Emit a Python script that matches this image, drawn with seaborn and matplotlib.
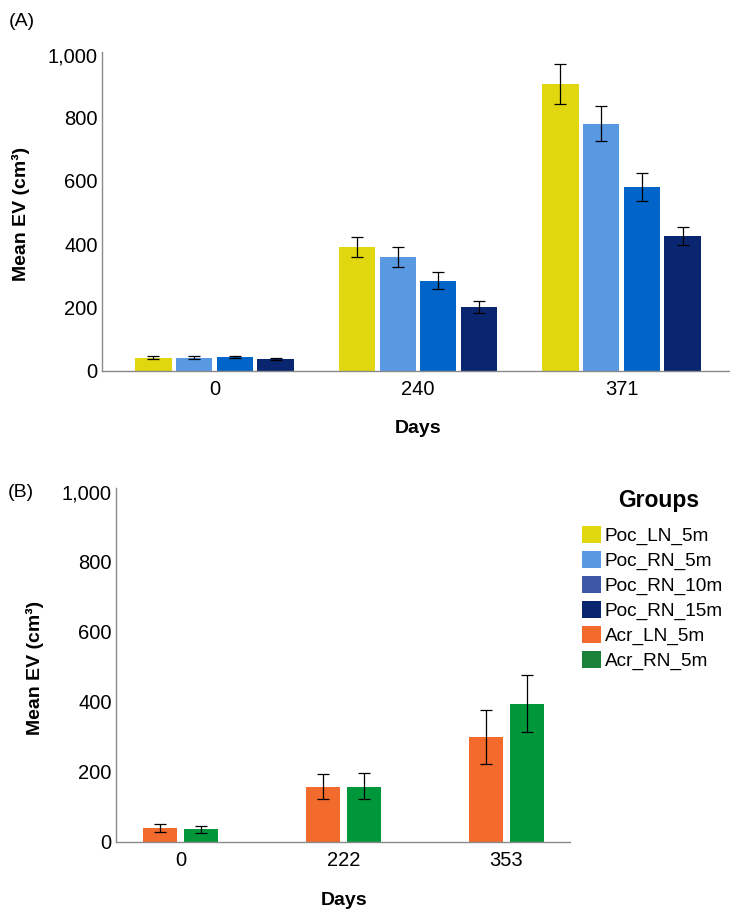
import pandas as pd
import matplotlib.pyplot as plt
import seaborn as sns
from matplotlib.patches import Patch

# panel A data
days_a = ["0", "240", "371"]
groups_a = ["Poc_LN_5m", "Poc_RN_5m", "Poc_RN_10m", "Poc_RN_15m"]
mean_a = [[41, 392, 906],
          [41, 360, 780],
          [43, 284, 580],
          [37, 200, 425]]
low_a = [[37, 360, 844],
         [37, 329, 726],
         [39, 259, 536],
         [34, 183, 397]]
high_a = [[45, 424, 970],
          [45, 392, 836],
          [47, 311, 626],
          [40, 219, 455]]

# panel B data
days_b = ["0", "222", "353"]
groups_b = ["Acr_LN_5m", "Acr_RN_5m"]
mean_b = [[40, 157, 298],
          [35, 157, 393]]
low_b = [[29, 121, 221],
         [26, 121, 312]]
high_b = [[51, 194, 376],
          [45, 196, 476]]

legend_groups = ["Poc_LN_5m", "Poc_RN_5m", "Poc_RN_10m", "Poc_RN_15m", "Acr_LN_5m", "Acr_RN_5m"]
legend_colors = ["#E1D70F", "#5899E2", "#3E58A8", "#0B2670", "#F26A2C", "#1C8138"]
bar_colors_a = ["#E1D70F", "#5899E2", "#0064C8", "#0B2670"]
bar_colors_b = ["#F26A2C", "#00963A"]

sns.set_style("white")
plt.rcParams["font.family"] = ["Liberation Sans", "DejaVu Sans"]
plt.rcParams["text.color"] = "black"
plt.rcParams["axes.labelcolor"] = "black"


def to_frame(days, groups, means):
    rows = []
    for g, vals in zip(groups, means):
        for d, v in zip(days, vals):
            rows.append({"Days": d, "Group": g, "EV": v})
    return pd.DataFrame(rows)


def draw_panel(ax, days, groups, means, lows, highs, colors, width, gap, xlim, ylab_x, xlab_y):
    df = to_frame(days, groups, means)
    sns.barplot(data=df, x="Days", y="EV", hue="Group", order=days, hue_order=groups,
                palette=colors, saturation=1, width=width, gap=gap, errorbar=None,
                legend=False, linewidth=0, ax=ax)
    for cont, m_row, lo_row, hi_row in zip(ax.containers, means, lows, highs):
        for bar, m, lo, hi in zip(cont, m_row, lo_row, hi_row):
            x = bar.get_x() + bar.get_width() / 2
            ax.errorbar(x, m, yerr=[[m - lo], [hi - m]], color="black",
                        elinewidth=0.9, capsize=4.5, capthick=0.9)
    ax.set_xlim(*xlim)
    ax.set_ylim(0, 1010)
    ax.set_yticks([0, 200, 400, 600, 800, 1000])
    ax.set_yticklabels(["0", "200", "400", "600", "800", "1,000"])
    ax.tick_params(axis="both", length=0, labelsize=14.5, colors="black")
    ax.tick_params(axis="x", pad=7)
    ax.tick_params(axis="y", pad=3)
    for s in ["top", "right"]:
        ax.spines[s].set_visible(False)
    for s in ["left", "bottom"]:
        ax.spines[s].set_color("#8a8a8a")
        ax.spines[s].set_linewidth(1)
    ax.set_ylabel("Mean EV (cm³)", fontsize=14, fontweight="bold")
    ax.set_xlabel("Days", fontsize=14, fontweight="bold")
    ax.yaxis.set_label_coords(ylab_x, 0.49)
    ax.xaxis.set_label_coords(0.503, xlab_y)
    ax.xaxis.label.set_verticalalignment("top")


fig = plt.figure(figsize=(7.3, 9.1), dpi=100)

ax_a = fig.add_axes([102 / 730, 1 - 370.5 / 910, 628 / 730, 319 / 910])
draw_panel(ax_a, days_a, groups_a, mean_a, low_a, high_a, bar_colors_a,
           0.8, 0.11, (-0.553, 2.533), -0.115, -0.155)

ax_b = fig.add_axes([116 / 730, 1 - 841.7 / 910, 454 / 730, 353.7 / 910])
draw_panel(ax_b, days_b, groups_b, mean_b, low_b, high_b, bar_colors_b,
           0.5, 0.18, (-0.396, 2.39), -0.159, -0.141)

fig.text(9 / 730, 1 - 22 / 910, "(A)", fontsize=14, va="center", ha="left")
fig.text(8 / 730, 1 - 493 / 910, "(B)", fontsize=14, va="center", ha="left")

fig.text(659 / 730, 1 - 501 / 910, "Groups", fontsize=16.5, fontweight="bold",
         ha="center", va="center")
handles = [Patch(facecolor=c, edgecolor="none") for c in legend_colors]
leg = fig.legend(handles, legend_groups, loc="upper left",
                 bbox_to_anchor=(582 / 730, 1 - 526 / 910), frameon=False,
                 fontsize=13.7, handlelength=1.0, handleheight=1.0, handletextpad=0.2,
                 labelspacing=0.3, borderpad=0, borderaxespad=0)

fig.savefig("out.png", dpi=100)
